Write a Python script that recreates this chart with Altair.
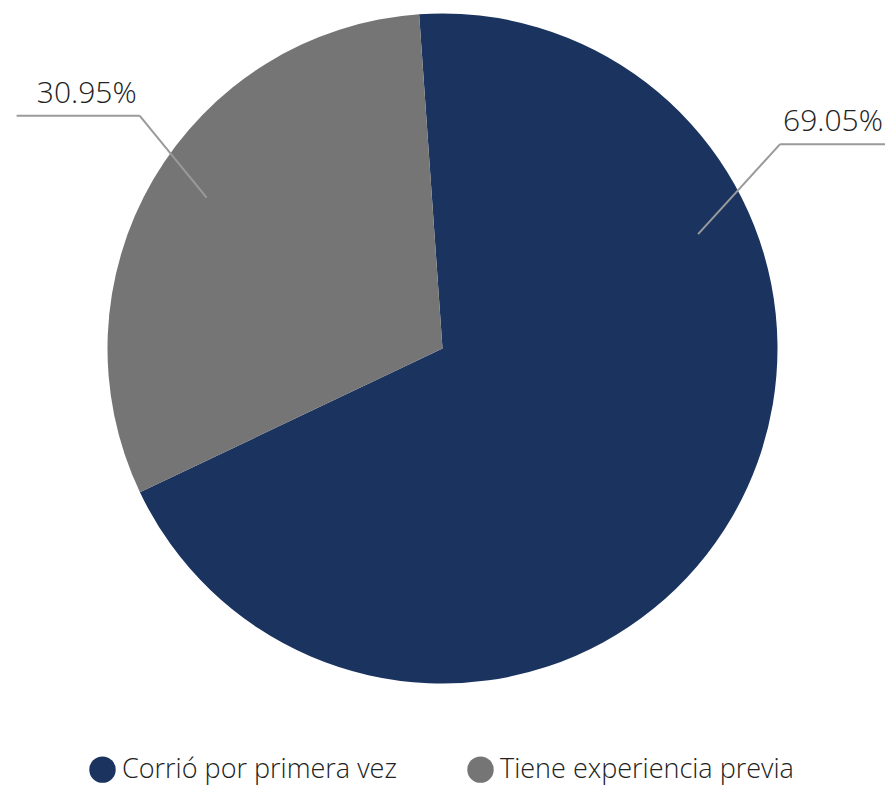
import math
import altair as alt
import pandas as pd

# ---- data ----
categories = ["Corrió por primera vez", "Tiene experiencia previa"]
values = [69.05, 30.95]
labels = ["69.05%", "30.95%"]
colors = ["#1b335f", "#757575"]
label_anchor_deg = [65.9, 302.6]  # where each leader line starts on its slice

# ---- layout ----
W, H = 869, 681
R = 335
START = math.radians(-4.0)
CX, CY = W / 2, H / 2
R_ANCHOR = 280
FONT = "Open Sans"
MAXX = W + 8

df = pd.DataFrame({
    "cat": categories,
    "value": values,
    "label": labels,
    "order": list(range(len(categories))),
    "anchor": label_anchor_deg,
})

base = alt.Chart(df)

pie = base.mark_arc(radius=R, strokeWidth=0).encode(
    theta=alt.Theta("value:Q", stack=True,
                    scale=alt.Scale(range=[2 * math.pi + START, 4 * math.pi + START])),
    color=alt.Color(
        "cat:N",
        scale=alt.Scale(domain=categories, range=colors),
        legend=alt.Legend(
            title=None, orient="none", direction="horizontal",
            legendX=81, legendY=748,
            symbolType="circle", symbolSize=700, symbolStrokeWidth=0,
            labelFontSize=27, labelFont=FONT, labelFontWeight=300,
            labelColor="#222222",
            labelOffset=6, columnPadding=70, labelLimit=500,
        ),
    ),
    order=alt.Order("order:Q"),
)

geo = base.transform_calculate(
    a="datum.anchor * PI / 180",
).transform_calculate(
    side="sin(datum.a) > 0 ? 1 : -1",
    sx=f"{CX} + {R_ANCHOR} * sin(datum.a)",
    sy=f"{CY} - {R_ANCHOR} * cos(datum.a)",
).transform_calculate(
    ex="datum.sx + (datum.side > 0 ? 82 : -67)",
    ey="datum.sy - (datum.side > 0 ? 90 : 82)",
).transform_calculate(
    hx=f"datum.side > 0 ? min(datum.ex + 114, {MAXX}) : datum.ex - 123",
    tx="datum.ex + datum.side * 3",
    ty="datum.ey - 13",
)

diag = geo.mark_rule(color="#9a9a9a", strokeWidth=2).encode(
    x=alt.X("sx:Q", scale=None), y=alt.Y("sy:Q", scale=None),
    x2="ex:Q", y2="ey:Q",
)
horiz = geo.mark_rule(color="#9a9a9a", strokeWidth=2).encode(
    x=alt.X("ex:Q", scale=None), y=alt.Y("ey:Q", scale=None),
    x2="hx:Q", y2="ey:Q",
)
txt_right = geo.transform_filter("datum.side > 0").mark_text(
    align="left", baseline="alphabetic", fontSize=30, font=FONT, fontWeight=300,
    color="#222222"
).encode(x=alt.X("tx:Q", scale=None), y=alt.Y("ty:Q", scale=None), text="label:N")
txt_left = geo.transform_filter("datum.side < 0").mark_text(
    align="right", baseline="alphabetic", fontSize=30, font=FONT, fontWeight=300,
    color="#222222"
).encode(x=alt.X("tx:Q", scale=None), y=alt.Y("ty:Q", scale=None), text="label:N")

chart = alt.layer(pie, diag, horiz, txt_right, txt_left).properties(
    width=W, height=H,
    autosize=alt.AutoSizeParams(type="none"),
    padding={"left": 0, "top": 0, "right": 8, "bottom": 110},
    background="white",
).configure_view(stroke=None)

chart.save("out.html", embed_options={"renderer": "svg", "actions": False})
